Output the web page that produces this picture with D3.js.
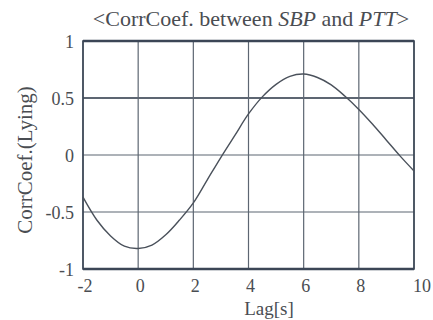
<!DOCTYPE html>
<html>
<head>
<meta charset="utf-8">
<script src="https://cdn.jsdelivr.net/npm/d3@7"></script>
<style>
  body { margin: 0; background: #fff; }
  svg text { font-family: "Liberation Serif", "Times New Roman", "DejaVu Serif", serif; fill: #4a4d52; }
</style>
</head>
<body>
<svg id="chart" width="433" height="320"></svg>
<script>
// lag in seconds, every half second
var lags = [-2, -1.5, -1, -0.5, 0, 0.5, 1, 1.5, 2, 2.5, 3, 3.5, 4, 4.5, 5, 5.5, 6, 6.5, 7, 7.5, 8, 8.5, 9, 9.5, 10];
var corrs = [-0.37, -0.57, -0.71, -0.80, -0.82, -0.79, -0.70, -0.57, -0.42, -0.22, -0.02, 0.17, 0.36, 0.51, 0.62, 0.69, 0.71, 0.68, 0.615, 0.515, 0.40, 0.27, 0.13, -0.01, -0.14];
var xTicks = [-2, 0, 2, 4, 6, 8, 10];
var yTicks = [-1, -0.5, 0, 0.5, 1];
var yTickLabels = ["-1", "-0.5", "0", "0.5", "1"];

var svg = d3.select("#chart");
// plot box (note: "top" clashes with window.top, so use other names)
var pLeft = 83, pRight = 414, pTop = 41, pBottom = 269;

var x = d3.scaleLinear().domain([-2, 10]).range([pLeft, pRight]);
var y = d3.scaleLinear().domain([-1, 1]).range([pBottom, pTop]);

var ink = "#3b4656";

// grid
svg.append("g").selectAll("line").data(xTicks).join("line")
    .attr("x1", d => x(d)).attr("x2", d => x(d))
    .attr("y1", pTop).attr("y2", pBottom)
    .attr("stroke", "#5d6672").attr("stroke-width", 1.2);
svg.append("g").selectAll("line").data(yTicks).join("line")
    .attr("y1", d => y(d)).attr("y2", d => y(d))
    .attr("x1", pLeft).attr("x2", pRight)
    .attr("stroke", "#5d6672")
    .attr("stroke-width", d => (d === 0.5 ? 2 : 1.2));

// frame: heavy top and bottom, lighter sides
svg.append("rect")
    .attr("x", pLeft).attr("y", pTop)
    .attr("width", pRight - pLeft).attr("height", pBottom - pTop)
    .attr("fill", "none").attr("stroke", ink).attr("stroke-width", 1.6);
svg.append("g").selectAll("line").data([pTop, pBottom]).join("line")
    .attr("x1", pLeft).attr("x2", pRight)
    .attr("y1", d => d).attr("y2", d => d)
    .attr("stroke", ink).attr("stroke-width", 2.6);

// curve
var pts = lags.map((d, i) => [d, corrs[i]]);
svg.append("path")
    .datum(pts)
    .attr("fill", "none")
    .attr("stroke", "#4a515b")
    .attr("stroke-width", 1.4)
    .attr("d", d3.line().x(d => x(d[0])).y(d => y(d[1])).curve(d3.curveCatmullRom));

// tick labels
svg.append("g").selectAll("text").data(xTicks).join("text")
    .attr("x", d => x(d) + (d === 10 ? 8 : 2)).attr("y", 292)
    .attr("text-anchor", "middle")
    .attr("font-size", 18)
    .text(d => d);
svg.append("g").selectAll("text").data(yTicks).join("text")
    .attr("x", pLeft - 9).attr("y", d => y(d) + 7)
    .attr("text-anchor", "end")
    .attr("font-size", 18)
    .text((d, i) => yTickLabels[i]);

// axis labels
svg.append("text")
    .attr("x", 269).attr("y", 315)
    .attr("text-anchor", "middle").attr("font-size", 19)
    .text("Lag[s]");
svg.append("text")
    .attr("transform", "translate(32,160) rotate(-90)")
    .attr("text-anchor", "middle").attr("font-size", 21)
    .text("CorrCoef.(Lying)");

// title with italic signal names
var title = svg.append("text")
    .attr("x", 251).attr("y", 26)
    .attr("text-anchor", "middle").attr("font-size", 22);
title.append("tspan").text("<CorrCoef. between ");
title.append("tspan").attr("font-style", "italic").text("SBP");
title.append("tspan").text(" and ");
title.append("tspan").attr("font-style", "italic").text("PTT");
title.append("tspan").text(">");
</script>
</body>
</html>
